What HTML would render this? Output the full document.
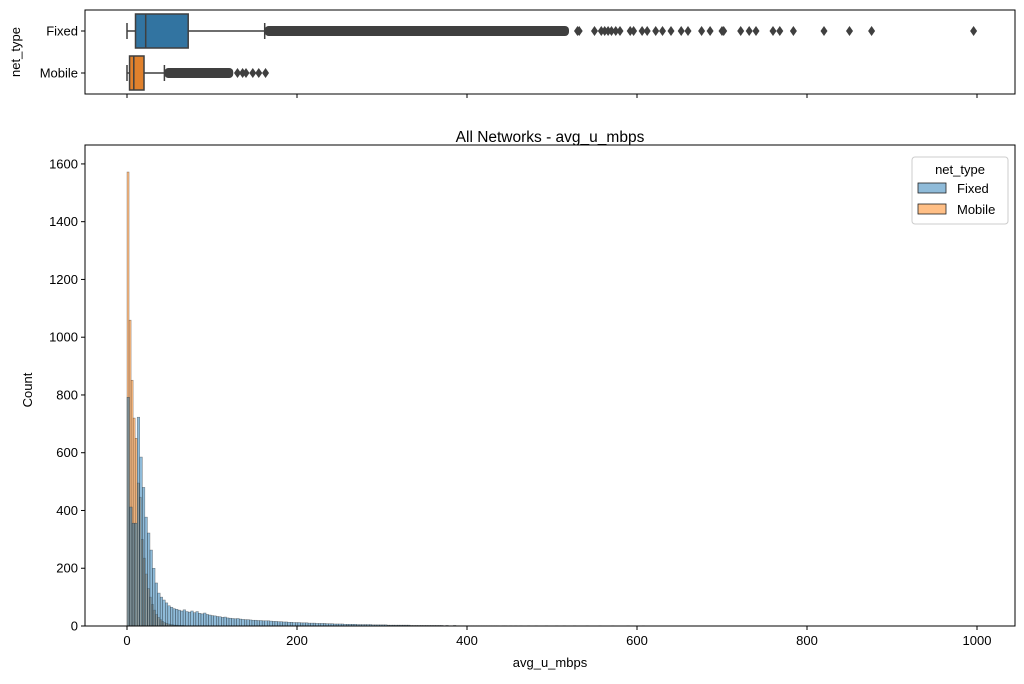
<!DOCTYPE html>
<html><head><meta charset="utf-8"><style>
body{margin:0;background:#fff;}
svg text{font-family:"Liberation Sans","DejaVu Sans",sans-serif;fill:#000;}
</style></head><body>
<svg id="fig" width="1024" height="679" viewBox="0 0 1024 679" xmlns="http://www.w3.org/2000/svg">
<rect width="1024" height="679" fill="#fff"/>
<g id="box"></g>
<g id="hist"></g>
</svg>
<script>
const fixedBinWidth = 3;
const mobileBinWidth = 2.4;
const fixedCounts = [792,412,356,356,723,585,480,377,322,263,200,149,114,100,90,80,70,65,60,58,55,52,56,50,48,52,46,50,44,42,45,40,38,36,35,33,32,30,31,28,27,26,25,26,24,23,22,22,21,20,20,19,19,18,18,18,17,16,16,15,15,14,14,13,13,12,12,12,11,11,11,10,10,10,9,9,9,9,8,8,8,7,7,7,7,6,6,6,6,6,5,5,5,5,5,5,4,4,4,4,4,4,3,3,3,3,3,3,3,3,3,2,2,2,2,2,2,2,2,2,2,2,2,2,1,2,1,1,2,1,1,1,1,1,1,1,1,1,1,1,1,1,1,1,1,1,0,1,1,0,1,0,1,0,1,0,0,1,0,0,1,0,0,0,1,0,0,0,1,0,0,1,0,0,0,1,0,0,0,0,1,0,0,0,0,1,0,0,0,0,1,0,0,0,0,0,1,0,0,0,0,0,1];
const mobileCounts = [1572,1059,851,720,650,495,446,300,235,180,130,100,75,55,40,30,22,16,12,9,7,5,4,3,3,2,2,2,1,1,1,1,1,1,1,1,1,1,1,1];
const xTicks = [0,200,400,600,800,1000];
const yTicks = [0,200,400,600,800,1000,1200,1400,1600];
const boxCategories = ["Fixed","Mobile"];
const boxQ1 = [10,3];
const boxMedian = [22,8];
const boxQ3 = [72,20];
const whiskerLow = [0,0];
const whiskerHigh = [162,44];
const denseOutlierEnd = [520,125];
const sparseOutliers = [[530,532,550,558,562,566,570,575,580,592,596,606,612,622,630,640,652,660,676,686,700,702,722,732,740,760,768,784,820,850,876,996],[130,136,140,148,155,163]];

const NS="http://www.w3.org/2000/svg";
function el(tag,attrs,parent){const e=document.createElementNS(NS,tag);for(const k in attrs)e.setAttribute(k,attrs[k]);parent.appendChild(e);return e;}
const X0=85,X1=1015;
const x=v=>127+v*0.85;
const HY0=145,HY1=626;
const y=c=>626-c*0.2888;
const hist=document.getElementById('hist');
const box=document.getElementById('box');

const series=[["rgba(255,127,14,0.5)",mobileCounts,"mobile",mobileBinWidth],["rgba(31,119,180,0.5)",fixedCounts,"fixed",fixedBinWidth]];
series.forEach(([col,arr,nm,bw])=>{
  arr.forEach((c,i)=>{
    if(c<=0)return;
    const r=el('rect',{x:x(i*bw),y:y(c),width:bw*0.85,height:626-y(c),fill:col,stroke:"rgba(30,30,30,0.55)","stroke-width":0.5},hist);
    
    
  });
});
el('rect',{x:X0,y:HY0,width:X1-X0,height:HY1-HY0,fill:"none",stroke:"#000","stroke-width":1},hist);
xTicks.forEach(t=>{
  el('line',{x1:x(t),x2:x(t),y1:626,y2:630,stroke:"#000"},hist);
  const tx=el('text',{x:x(t),y:645,"font-size":13,"text-anchor":"middle"},hist);tx.textContent=t;
  
  
  el('line',{x1:x(t),x2:x(t),y1:94,y2:98,stroke:"#000"},box);
});
yTicks.forEach(t=>{
  el('line',{x1:81,x2:85,y1:y(t),y2:y(t),stroke:"#000"},hist);
  const tx=el('text',{x:78,y:y(t)+4.5,"font-size":13,"text-anchor":"end"},hist);tx.textContent=t;
  
  
});
let t=el('text',{x:550,y:667,"font-size":13,"text-anchor":"middle"},hist);t.textContent="avg_u_mbps";


t=el('text',{x:32,y:390,"font-size":13,"text-anchor":"middle",transform:"rotate(-90 32 390)"},hist);t.textContent="Count";


t=el('text',{x:550,y:142,"font-size":15.5,"text-anchor":"middle"},hist);t.textContent="All Networks - avg_u_mbps";



const lg=el('g',{},hist);


el('rect',{x:912,y:157,width:96,height:67,rx:3,fill:"#fff",stroke:"#ccc"},lg);
t=el('text',{x:960,y:174,"font-size":13,"text-anchor":"middle"},lg);t.textContent="net_type";
[["Fixed","rgba(31,119,180,0.5)"],["Mobile","rgba(255,127,14,0.5)"]].forEach(([n,c],i)=>{
  el('rect',{x:918,y:183+i*21,width:28,height:10,fill:c,stroke:"#222","stroke-width":0.8},lg);
  const tt=el('text',{x:957,y:193+i*21,"font-size":13},lg);tt.textContent=n;
  
  
});

el('rect',{x:X0,y:10,width:X1-X0,height:84,fill:"none",stroke:"#000"},box);
const cy=[31,73],fills=["#3274a1","#e1812c"];
boxCategories.forEach((c,i)=>{
  const g=el('g',{},box);
  
  
  el('line',{x1:x(whiskerLow[i]),x2:x(boxQ1[i]),y1:cy[i],y2:cy[i],stroke:"#3f3f3f","stroke-width":1.5},g);
  el('line',{x1:x(boxQ3[i]),x2:x(whiskerHigh[i]),y1:cy[i],y2:cy[i],stroke:"#3f3f3f","stroke-width":1.5},g);
  el('line',{x1:x(whiskerLow[i]),x2:x(whiskerLow[i]),y1:cy[i]-8,y2:cy[i]+8,stroke:"#3f3f3f","stroke-width":1.5},g);
  el('line',{x1:x(whiskerHigh[i]),x2:x(whiskerHigh[i]),y1:cy[i]-8,y2:cy[i]+8,stroke:"#3f3f3f","stroke-width":1.5},g);
  el('rect',{x:x(boxQ1[i]),y:cy[i]-17,width:x(boxQ3[i])-x(boxQ1[i]),height:34,fill:fills[i],stroke:"#3f3f3f","stroke-width":1.5},g);
  el('line',{x1:x(boxMedian[i]),x2:x(boxMedian[i]),y1:cy[i]-17,y2:cy[i]+17,stroke:"#3f3f3f","stroke-width":1.5},g);
  el('rect',{x:x(whiskerHigh[i]),y:cy[i]-5,width:x(denseOutlierEnd[i])-x(whiskerHigh[i]),height:10,rx:4,fill:"#3f3f3f"},g);
  sparseOutliers[i].forEach(v=>{
    const p=el('path',{d:`M${x(v)} ${cy[i]-5} L${x(v)+3.5} ${cy[i]} L${x(v)} ${cy[i]+5} L${x(v)-3.5} ${cy[i]} Z`,fill:"#3f3f3f"},g);
    
    
  });
  el('line',{x1:81,x2:85,y1:cy[i],y2:cy[i],stroke:"#000"},box);
  const tt=el('text',{x:78,y:cy[i]+4.5,"font-size":13,"text-anchor":"end"},box);tt.textContent=c;
  
  
});
t=el('text',{x:20,y:52,"font-size":13,"text-anchor":"middle",transform:"rotate(-90 20 52)"},box);t.textContent="net_type";


</script>
</body></html>
